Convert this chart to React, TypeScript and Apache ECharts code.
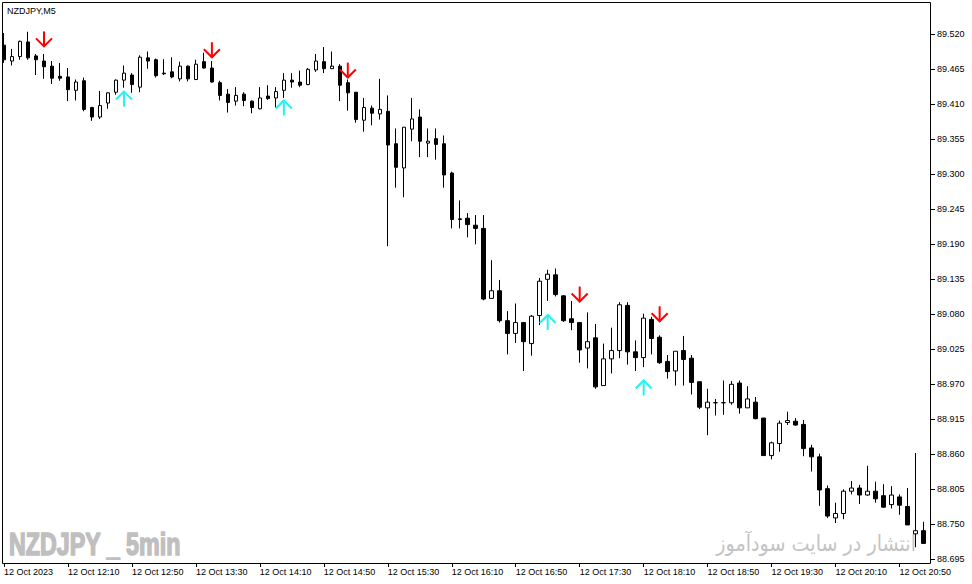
import React, { useEffect, useRef } from "react";
import * as echarts from "echarts";

// ---- data ----
const startMinutes = 11 * 60 + 30; // first bar 12 Oct 2023 11:30, M5 bars
const barCount = 116;
const categories: string[] = Array.from({ length: barCount }, (_, i) => {
  const m = startMinutes + 5 * i;
  const hh = String(Math.floor(m / 60)).padStart(2, "0");
  const mm = String(m % 60).padStart(2, "0");
  return `12 Oct ${hh}:${mm}`;
});

const xTickLabels = [
  "12 Oct 2023", "12 Oct 12:10", "12 Oct 12:50", "12 Oct 13:30", "12 Oct 14:10",
  "12 Oct 14:50", "12 Oct 15:30", "12 Oct 16:10", "12 Oct 16:50", "12 Oct 17:30",
  "12 Oct 18:10", "12 Oct 18:50", "12 Oct 19:30", "12 Oct 20:10", "12 Oct 20:50",
];

const yTicks = [
  88.695, 88.75, 88.805, 88.86, 88.915, 88.97, 89.025, 89.08, 89.135, 89.19,
  89.245, 89.3, 89.355, 89.41, 89.465, 89.52,
];

const opens = [
  89.503, 89.478, 89.485, 89.508, 89.486, 89.478, 89.470, 89.454, 89.453, 89.432,
  89.447, 89.405, 89.390, 89.412, 89.429, 89.448, 89.456, 89.437, 89.483, 89.480,
  89.459, 89.461, 89.450, 89.470, 89.449, 89.477, 89.467, 89.444, 89.426, 89.415,
  89.426, 89.415, 89.403, 89.423, 89.420, 89.432, 89.448, 89.445, 89.441, 89.464,
  89.477, 89.466, 89.470, 89.444, 89.429, 89.385, 89.404, 89.395, 89.399, 89.348,
  89.310, 89.371, 89.390, 89.349, 89.356, 89.348, 89.302, 89.230, 89.231, 89.220,
  89.215, 89.105, 89.117, 89.070, 89.050, 89.067, 89.034, 89.078, 89.135, 89.142,
  89.109, 89.073, 89.067, 89.027, 89.043, 88.968, 89.010, 89.023, 89.094, 89.021,
  89.012, 89.072, 89.044, 89.006, 88.991, 89.023, 89.011, 88.974, 88.933, 88.941,
  88.941, 88.941, 88.972, 88.933, 88.942, 88.917, 88.858, 88.877, 88.910, 88.912,
  88.907, 88.870, 88.856, 88.806, 88.760, 88.767, 88.802, 88.807, 88.796, 88.802,
  88.795, 88.781, 88.793, 88.778, 88.735, 88.740,
];
const highs = [
  89.522, 89.497, 89.510, 89.524, 89.489, 89.489, 89.478, 89.475, 89.467, 89.449,
  89.452, 89.406, 89.431, 89.429, 89.449, 89.471, 89.459, 89.487, 89.493, 89.482,
  89.481, 89.484, 89.477, 89.471, 89.480, 89.491, 89.478, 89.447, 89.434, 89.437,
  89.429, 89.416, 89.437, 89.440, 89.437, 89.459, 89.459, 89.463, 89.467, 89.489,
  89.500, 89.493, 89.473, 89.449, 89.429, 89.420, 89.408, 89.450, 89.424, 89.372,
  89.374, 89.420, 89.402, 89.372, 89.372, 89.361, 89.304, 89.259, 89.239, 89.236,
  89.236, 89.165, 89.134, 89.085, 89.097, 89.067, 89.079, 89.137, 89.150, 89.152,
  89.110, 89.101, 89.067, 89.083, 89.065, 89.034, 89.059, 89.099, 89.099, 89.039,
  89.081, 89.076, 89.047, 89.016, 89.022, 89.046, 89.016, 88.975, 88.963, 88.947,
  88.976, 88.975, 88.976, 88.967, 88.950, 88.917, 88.880, 88.913, 88.927, 88.917,
  88.914, 88.875, 88.861, 88.811, 88.784, 88.805, 88.818, 88.812, 88.842, 88.817,
  88.813, 88.810, 88.797, 88.807, 88.862, 88.754,
];
const lows = [
  89.475, 89.471, 89.480, 89.480, 89.456, 89.450, 89.442, 89.447, 89.415, 89.416,
  89.399, 89.384, 89.387, 89.403, 89.425, 89.436, 89.428, 89.429, 89.466, 89.452,
  89.456, 89.451, 89.446, 89.446, 89.448, 89.466, 89.444, 89.416, 89.397, 89.408,
  89.407, 89.396, 89.402, 89.417, 89.405, 89.420, 89.436, 89.437, 89.440, 89.461,
  89.459, 89.466, 89.415, 89.400, 89.381, 89.367, 89.377, 89.386, 89.187, 89.279,
  89.264, 89.352, 89.327, 89.327, 89.323, 89.279, 89.215, 89.215, 89.201, 89.190,
  89.102, 89.105, 89.067, 89.017, 89.035, 88.991, 89.015, 89.063, 89.101, 89.108,
  89.068, 89.055, 89.004, 88.995, 88.963, 88.968, 88.987, 89.011, 89.001, 88.991,
  88.997, 89.017, 89.002, 88.979, 88.968, 88.968, 88.954, 88.931, 88.890, 88.921,
  88.922, 88.938, 88.924, 88.933, 88.915, 88.858, 88.852, 88.864, 88.906, 88.905,
  88.857, 88.833, 88.779, 88.760, 88.752, 88.758, 88.797, 88.782, 88.795, 88.784,
  88.776, 88.775, 88.765, 88.749, 88.714, 88.720,
];
const closes = [
  89.480, 89.485, 89.509, 89.483, 89.480, 89.469, 89.451, 89.451, 89.433, 89.445,
  89.402, 89.390, 89.408, 89.428, 89.448, 89.459, 89.441, 89.484, 89.478, 89.455,
  89.458, 89.453, 89.470, 89.450, 89.473, 89.467, 89.445, 89.424, 89.413, 89.424,
  89.416, 89.405, 89.420, 89.419, 89.430, 89.448, 89.445, 89.440, 89.465, 89.478,
  89.466, 89.470, 89.440, 89.428, 89.386, 89.405, 89.396, 89.402, 89.346, 89.311,
  89.374, 89.387, 89.352, 89.352, 89.347, 89.299, 89.229, 89.229, 89.221, 89.215,
  89.104, 89.117, 89.070, 89.050, 89.067, 89.037, 89.077, 89.132, 89.143, 89.111,
  89.070, 89.067, 89.024, 89.037, 88.966, 89.010, 89.023, 89.095, 89.021, 89.012,
  89.074, 89.042, 89.004, 88.990, 89.022, 89.009, 88.973, 88.934, 88.942, 88.941,
  88.941, 88.970, 88.933, 88.947, 88.916, 88.858, 88.878, 88.909, 88.913, 88.906,
  88.869, 88.856, 88.804, 88.763, 88.767, 88.802, 88.807, 88.796, 88.802, 88.790,
  88.777, 88.796, 88.780, 88.749, 88.740, 88.720,
];

// signal arrows: bar index and price of the arrow tip
const sellArrowIdx = [5, 26, 43, 72, 82];
const sellArrowPrice = [89.501, 89.484, 89.452, 89.100, 89.069];
const buyArrowIdx = [15, 35, 68, 80];
const buyArrowPrice = [89.430, 89.416, 89.079, 88.976];

const titleText = "NZDJPY,M5";
const watermarkLeft = "NZDJPY _ 5min";
const watermarkRight = "انتشار در سایت سودآموز";

// ---- component ----
const FONT = "'Liberation Sans', Arial, sans-serif";

function arrowSeries(idx: number[], price: number[], dir: number, color: string) {
  return {
    type: "custom",
    coordinateSystem: "cartesian2d",
    silent: true,
    z: 5,
    data: idx.map((d, k) => [d, price[k]]),
    renderItem: (_params: any, api: any) => {
      const p = api.coord([api.value(0), api.value(1)]);
      const x = p[0];
      const y = p[1];
      const head = 8;
      const st = { stroke: color, lineWidth: 2, fill: null };
      return {
        type: "group",
        children: [
          { type: "line", shape: { x1: x, y1: dir < 0 ? y - 15 : y + 15, x2: x, y2: y }, style: st },
          {
            type: "polyline",
            shape: {
              points: dir < 0
                ? [[x - head, y - head], [x, y], [x + head, y - head]]
                : [[x - head, y + head], [x, y], [x + head, y + head]],
            },
            style: st,
          },
        ],
      };
    },
  };
}

export default function App() {
  const ref = useRef<HTMLDivElement>(null);
  useEffect(() => {
    if (!ref.current) return;
    const chart = echarts.init(ref.current, null, { renderer: "svg" });
    const candleData = opens.map((o, i) => [o, closes[i], lows[i], highs[i]]);
    const yMin = 88.6892;
    const yMax = 89.5692;
    chart.setOption({
      animation: false,
      backgroundColor: "#ffffff",
      grid: { left: -0.5, top: 3, width: 928, height: 560, containLabel: false },
      xAxis: {
        type: "category",
        data: categories,
        boundaryGap: true,
        axisLine: { show: false },
        axisTick: {
          show: true,
          alignWithLabel: true,
          interval: (i: number) => i % 8 === 0,
          length: 4,
          lineStyle: { color: "#000", width: 1 },
        },
        axisLabel: {
          interval: (i: number) => i % 8 === 0,
          formatter: (_v: string, i: number) => xTickLabels[Math.round(i / 8)] ?? "",
          align: "left",
          margin: 4,
          color: "#000",
          fontFamily: FONT,
          fontSize: 9,
          hideOverlap: false,
        },
        splitLine: { show: false },
      },
      yAxis: {
        type: "value",
        position: "right",
        offset: 3.5,
        min: yMin,
        max: yMax,
        axisLine: { show: false },
        axisTick: {
          show: true,
          customValues: yTicks,
          length: 4,
          lineStyle: { color: "#000", width: 1 },
        },
        axisLabel: {
          customValues: yTicks,
          formatter: (v: number) => v.toFixed(3),
          margin: 6,
          color: "#000",
          fontFamily: FONT,
          fontSize: 9,
        },
        splitLine: { show: false },
      },
      series: [
        {
          type: "candlestick",
          data: candleData,
          barWidth: 4,
          itemStyle: {
            color: "#ffffff",
            color0: "#000000",
            borderColor: "#000000",
            borderColor0: "#000000",
            borderWidth: 1,
          },
          silent: true,
          z: 3,
        },
        arrowSeries(sellArrowIdx, sellArrowPrice, -1, "#ff0000"),
        arrowSeries(buyArrowIdx, buyArrowPrice, 1, "#22f2f2"),
      ],
      graphic: [
        {
          type: "rect",
          shape: { x: 2.5, y: 2.5, width: 928, height: 561 },
          style: { fill: "none", stroke: "#000", lineWidth: 1 },
          silent: true,
          z: 10,
        },
        {
          type: "text",
          x: 7,
          y: 6,
          style: { text: titleText, font: `9px ${FONT}`, fill: "#000", verticalAlign: "top" },
          silent: true,
          z: 10,
        },
        {
          type: "text",
          x: 9,
          y: 544,
          scaleX: 0.75,
          style: {
            text: watermarkLeft,
            font: `bold 31px ${FONT}`,
            fill: "#bfbfbf",
            stroke: "#bfbfbf",
            lineWidth: 1.6,
            verticalAlign: "middle",
          },
          silent: true,
          z: 1,
        },
        {
          type: "text",
          x: 916,
          y: 544,
          scaleX: 0.87,
          style: {
            text: watermarkRight,
            font: "22px 'DejaVu Sans', sans-serif",
            fill: "#c4c4c4",
            align: "right",
            verticalAlign: "middle",
          },
          silent: true,
          z: 1,
        },
      ],
    });
    return () => chart.dispose();
  }, []);
  return (
    <div
      ref={ref}
      style={{ position: "fixed", left: 0, top: 0, width: 972, height: 584, background: "#fff" }}
    />
  );
}
